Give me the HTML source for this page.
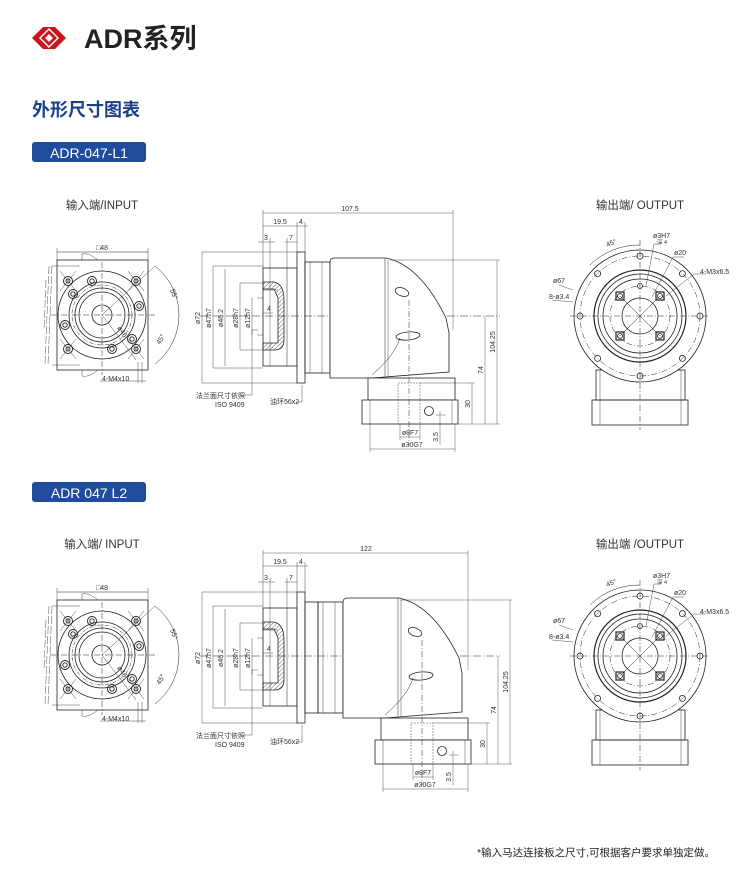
<!DOCTYPE html>
<html><head><meta charset="utf-8"><style>
body{margin:0;background:#fff;width:750px;height:886px;overflow:hidden;font-family:"Liberation Sans","Noto Sans CJK SC",sans-serif}
svg{position:absolute;left:0;top:0}
</style></head><body>
<svg width="750" height="886" viewBox="0 0 750 886" xmlns="http://www.w3.org/2000/svg" font-family="Liberation Sans, Noto Sans CJK SC, sans-serif">
<defs>
<pattern id="h" width="3" height="3" patternUnits="userSpaceOnUse" patternTransform="rotate(45)"><line x1="0" y1="0" x2="0" y2="3" stroke="#444" stroke-width="0.8"/></pattern>
<g id="IN" fill="none" stroke="#222" stroke-width="0.8">
 <rect x="57" y="260" width="91" height="110"/>
 <circle cx="102" cy="315" r="44"/>
 <circle cx="102" cy="315" r="33"/>
 <circle cx="102" cy="315" r="27"/>
 <circle cx="102" cy="315" r="23"/>
 <circle cx="102" cy="315" r="10"/>
 <circle cx="102" cy="315" r="30" stroke-dasharray="4 1.5 1 1.5" stroke-width="0.5"/>
 <g stroke-width="0.9">
  <circle cx="68" cy="281" r="4.5"/><circle cx="68" cy="281" r="2"/>
  <circle cx="136" cy="281" r="4.5"/><circle cx="136" cy="281" r="2"/>
  <circle cx="68" cy="349" r="4.5"/><circle cx="68" cy="349" r="2"/>
  <circle cx="136" cy="349" r="4.5"/><circle cx="136" cy="349" r="2"/>
  <circle cx="92" cy="281" r="4.5"/><circle cx="92" cy="281" r="2.2"/>
  <circle cx="73" cy="294" r="4.5"/><circle cx="73" cy="294" r="2.2"/>
  <circle cx="139" cy="306" r="4.5"/><circle cx="139" cy="306" r="2.2"/>
  <circle cx="65" cy="325" r="4.5"/><circle cx="65" cy="325" r="2.2"/>
  <circle cx="132" cy="339" r="4.5"/><circle cx="132" cy="339" r="2.2"/>
  <circle cx="112" cy="349" r="4.5"/><circle cx="112" cy="349" r="2.2"/>
 </g>
 <path d="M60 271 L76 291 M60 291 L76 271 M128 271 L144 291 M128 291 L144 271 M60 339 L76 359 M60 359 L76 339 M128 339 L144 359 M128 359 L144 339" stroke-width="0.4"/>
 <line x1="50" y1="315" x2="155" y2="315" stroke-dasharray="6 2 1 2" stroke-width="0.5"/>
 <line x1="102" y1="262" x2="102" y2="375" stroke-dasharray="6 2 1 2" stroke-width="0.5"/>
 <line x1="57" y1="252" x2="148" y2="252" stroke-width="0.5"/>
 <line x1="57" y1="248" x2="57" y2="260" stroke-width="0.4"/><line x1="148" y1="248" x2="148" y2="260" stroke-width="0.4"/>
 <path d="M155 266 A 62 62 0 0 1 155 364" stroke-width="0.5"/>
 <line x1="102" y1="315" x2="155" y2="266" stroke-width="0.4"/>
 <line x1="102" y1="315" x2="136" y2="360" stroke-width="0.4"/>
 <line x1="138" y1="362" x2="138" y2="383" stroke-width="0.4"/><line x1="142" y1="362" x2="142" y2="383" stroke-width="0.4"/>
 <line x1="100" y1="381" x2="146" y2="381" stroke-width="0.4"/>
 <path d="M49 266 L45 365 M52 266 L48 365 M46 280 L44 330" stroke-width="0.4" stroke-dasharray="8 2"/>
 <path d="M52 266 L80 266 M52 365 L80 365" stroke-width="0.4"/>
 <path d="M82 260 L82 254 Q88 252 98 260 M82 370 L82 376 Q88 378 98 370" stroke-width="0.4"/>
</g>
<g id="OUT" fill="none" stroke="#222" stroke-width="0.8">
 <rect x="596" y="370" width="89" height="30"/>
 <rect x="592" y="400" width="96" height="25"/>
 <line x1="600" y1="370" x2="600" y2="425" stroke-width="0.4"/><line x1="681" y1="370" x2="681" y2="425" stroke-width="0.4"/>
 <circle cx="640" cy="316" r="66" fill="#fff"/>
 <circle cx="640" cy="316" r="60" stroke-dasharray="6 2 1 2" stroke-width="0.5"/>
 <circle cx="640" cy="316" r="46" stroke-width="1.2"/>
 <circle cx="640" cy="316" r="42"/>
 <circle cx="640" cy="316" r="37"/>
 <circle cx="640" cy="316" r="30" stroke-dasharray="6 2 1 2" stroke-width="0.5"/>
 <circle cx="640" cy="316" r="18"/>
 <g stroke-width="0.8">
  <circle cx="640" cy="256" r="3"/><circle cx="640" cy="376" r="3"/><circle cx="580" cy="316" r="3"/><circle cx="700" cy="316" r="3"/>
  <circle cx="597.6" cy="273.6" r="3"/><circle cx="682.4" cy="273.6" r="3"/><circle cx="597.6" cy="358.4" r="3"/><circle cx="682.4" cy="358.4" r="3"/>
  <circle cx="640" cy="286" r="2.5"/>
  <rect x="616" y="292" width="8" height="8" stroke-width="1.2"/><circle cx="620" cy="296" r="2.5"/>
  <rect x="656" y="292" width="8" height="8" stroke-width="1.2"/><circle cx="660" cy="296" r="2.5"/>
  <rect x="616" y="332" width="8" height="8" stroke-width="1.2"/><circle cx="620" cy="336" r="2.5"/>
  <rect x="656" y="332" width="8" height="8" stroke-width="1.2"/><circle cx="660" cy="336" r="2.5"/>
 </g>
 <line x1="620" y1="296" x2="660" y2="336" stroke-width="0.5"/><line x1="660" y1="296" x2="620" y2="336" stroke-width="0.5"/>
 <line x1="570" y1="316" x2="710" y2="316" stroke-dasharray="6 2 1 2" stroke-width="0.5"/>
 <line x1="640" y1="240" x2="640" y2="430" stroke-dasharray="6 2 1 2" stroke-width="0.5"/>
 <path d="M590 265 A 70 70 0 0 1 640 245" stroke-width="0.5"/>
 <path d="M573 290 L559 285 M573 302 L552 300" stroke-width="0.4"/>
 <path d="M646 286 L654 244 L660 244 M652 297 L673 257 L684 257 M666 296 L694 274 L706 274" stroke-width="0.4"/>
</g>
<g id="SL" fill="none" stroke="#222" stroke-width="0.8">
 <rect x="263" y="268" width="34" height="98"/>
 <line x1="270" y1="268" x2="270" y2="366" stroke-width="0.4"/>
 <line x1="287" y1="268" x2="287" y2="366" stroke-width="0.5"/>
 <path d="M263 282 L274 282 Q284 284 284 300 L284 340 Q284 350 274 350 L263 350 L263 343 L278 343 L278 298 L274 289 L263 289 Z" fill="url(#h)"/>
 <rect x="297" y="252" width="8" height="131" fill="#fff"/>
 <line x1="263" y1="290" x2="278" y2="290" stroke-width="0.4"/>
 <line x1="257" y1="298" x2="263" y2="298" stroke-width="0.4"/><line x1="257" y1="335" x2="263" y2="335" stroke-width="0.4"/>
 <g stroke-width="0.4">
  <line x1="202" y1="252" x2="297" y2="252"/><line x1="202" y1="383" x2="297" y2="383"/><line x1="202" y1="252" x2="202" y2="383"/>
  <line x1="213" y1="266" x2="263" y2="266"/><line x1="213" y1="368" x2="263" y2="368"/><line x1="213" y1="266" x2="213" y2="368"/>
  <line x1="225" y1="269" x2="225" y2="366"/>
  <line x1="240" y1="283" x2="263" y2="283"/><line x1="240" y1="350" x2="263" y2="350"/><line x1="240" y1="283" x2="240" y2="350"/>
  <line x1="252" y1="298" x2="252" y2="335"/>
  <line x1="263" y1="210" x2="263" y2="268"/>
  <line x1="297" y1="222" x2="297" y2="252"/><line x1="305" y1="222" x2="305" y2="252"/>
  <line x1="263" y1="226" x2="308" y2="226"/>
  <line x1="258" y1="242" x2="275" y2="242"/><line x1="270" y1="238" x2="270" y2="268"/>
  <line x1="285" y1="242" x2="297" y2="242"/><line x1="287" y1="238" x2="287" y2="268"/>
  <line x1="263" y1="313" x2="273" y2="313"/>
  <path d="M258 330 L252 330 L252 395 L244 395 M302 385 L302 402 L296 402"/>
 </g>
 <line x1="200" y1="316" x2="500" y2="316" stroke-dasharray="8 2 1 2" stroke-width="0.5"/>
</g>
<g id="SR" fill="none" stroke="#222" stroke-width="0.8">
 <rect x="305" y="262" width="25" height="111"/>
 <line x1="310" y1="262" x2="310" y2="373" stroke-width="0.4"/><line x1="322" y1="262" x2="322" y2="373" stroke-width="0.4"/>
 <path d="M330 262 Q330 258 335 258 L386 258 Q420 265 446 318 L449 333 L449 372 L372 378 L330 378 Z" fill="#fff"/>
 <line x1="385" y1="258" x2="385" y2="376" stroke-width="0.5"/><line x1="388" y1="260" x2="388" y2="376" stroke-width="0.4"/>
 <ellipse cx="402" cy="292" rx="7" ry="4" transform="rotate(20 402 292)"/>
 <ellipse cx="408" cy="336" rx="12" ry="4" transform="rotate(-5 408 336)"/>
 <path d="M400 338 Q395 355 372 375" stroke-width="0.5"/>
 <rect x="368" y="378" width="87" height="22" fill="#fff"/>
 <rect x="362" y="400" width="96" height="24" fill="#fff"/>
 <line x1="370" y1="400" x2="370" y2="424" stroke-width="0.4"/><line x1="452" y1="400" x2="452" y2="424" stroke-width="0.4"/>
 <rect x="398" y="383" width="22" height="41" stroke-dasharray="2 1" stroke-width="0.4"/>
 <circle cx="429" cy="411" r="4.5"/>
 <line x1="409" y1="300" x2="409" y2="445" stroke-dasharray="6 2 1 2" stroke-width="0.5"/>
</g>
</defs>

<g fill="#c8161d">
 <path d="M32 38 L43 27 L50 27 L39 38 L50 49 L43 49 Z"/>
 <path d="M48 27 L55 27 L66 38 L55 49 L48 49 L59 38 Z"/>
 <path d="M41 38 L49 30 L57 38 L49 46 Z" fill="#c8161d"/>
 <path d="M45 38 L49 34 L53 38 L49 42 Z" fill="#fff"/>
</g>
<text x="84" y="48" font-size="27" font-weight="bold" fill="#222">ADR系列</text>
<text x="32" y="116" font-size="18" font-weight="bold" fill="#1b3f8c">外形尺寸图表</text>

<rect x="32" y="142" width="114" height="20" rx="3" fill="#1f4c9d"/>
<text x="89" y="158" font-size="14" fill="#fff" text-anchor="middle">ADR-047-L1</text>
<text x="102" y="209" font-size="11.5" fill="#333" text-anchor="middle">输入端/INPUT</text>
<text x="640" y="209" font-size="11.5" fill="#333" text-anchor="middle">输出端/ OUTPUT</text>
<use href="#IN"/><use href="#OUT"/><use href="#SL"/><use href="#SR"/>
<g fill="none" stroke="#333" stroke-width="0.4">
 <line x1="263" y1="213" x2="453" y2="213"/><line x1="453" y1="210" x2="453" y2="330"/>
 <line x1="390" y1="260" x2="500" y2="260"/><line x1="497" y1="260" x2="497" y2="424"/>
 <line x1="485" y1="316" x2="485" y2="424"/><line x1="458" y1="424" x2="500" y2="424"/>
 <line x1="420" y1="383" x2="475" y2="383"/><line x1="472" y1="383" x2="472" y2="424"/>
 <line x1="400" y1="424" x2="400" y2="440"/><line x1="420" y1="424" x2="420" y2="440"/><line x1="400" y1="437" x2="420" y2="437"/>
 <line x1="370" y1="424" x2="370" y2="452"/><line x1="455" y1="424" x2="455" y2="452"/><line x1="370" y1="449" x2="455" y2="449"/>
 <line x1="440" y1="411" x2="440" y2="445"/><line x1="436" y1="415" x2="446" y2="415"/>
</g>
<g font-size="7" fill="#333">
 <text x="350" y="211" text-anchor="middle">107.5</text>
 <text x="280" y="224" text-anchor="middle">19.5</text><text x="301" y="224" text-anchor="middle">4</text>
 <text x="266" y="240" text-anchor="middle">3</text><text x="291" y="240" text-anchor="middle">7</text>
 <text x="269" y="311" text-anchor="middle">4</text>
 <text x="410" y="435" text-anchor="middle">ø8F7</text><text x="412" y="447" text-anchor="middle">ø30G7</text>
 <text transform="translate(200 318) rotate(-90)" text-anchor="middle">ø72</text>
 <text transform="translate(211 318) rotate(-90)" text-anchor="middle">ø47h7</text>
 <text transform="translate(223 318) rotate(-90)" text-anchor="middle">ø46.2</text>
 <text transform="translate(238 318) rotate(-90)" text-anchor="middle">ø28h7</text>
 <text transform="translate(250 318) rotate(-90)" text-anchor="middle">ø12h7</text>
 <text transform="translate(495 342) rotate(-90)" text-anchor="middle">104.25</text>
 <text transform="translate(483 370) rotate(-90)" text-anchor="middle">74</text>
 <text transform="translate(470 404) rotate(-90)" text-anchor="middle">30</text>
 <text transform="translate(438 437) rotate(-90)" text-anchor="middle">3.5</text>
 <text x="196" y="398">法兰面尺寸依照</text><text x="215" y="407">ISO 9409</text>
 <text x="270" y="404">油环56x2</text>
 <text x="102" y="250" text-anchor="middle">□48</text>
 <text x="102" y="381">4-M4x10</text>
 <text transform="translate(170 290) rotate(70)">55°</text>
 <text transform="translate(160 345) rotate(-60)">45°</text>
 <text transform="translate(117 328) rotate(55)">ø46</text>
 <text x="607" y="247" transform="rotate(-20 607 247)">45°</text>
 <text x="653" y="238">ø3H7</text><text x="657" y="244" font-size="5.5">深 4</text>
 <text x="674" y="255">ø20</text><text x="700" y="274">4-M3x6.5</text>
 <text x="553" y="283">ø67</text><text x="549" y="299">8-ø3.4</text>
</g>

<g transform="translate(0 340)">
<rect x="32" y="142" width="114" height="20" rx="3" fill="#1f4c9d"/>
<text x="89" y="158" font-size="14" fill="#fff" text-anchor="middle">ADR 047 L2</text>
<text x="102" y="208" font-size="11.5" fill="#333" text-anchor="middle">输入端/ INPUT</text>
<text x="640" y="208" font-size="11.5" fill="#333" text-anchor="middle">输出端 /OUTPUT</text>
<use href="#IN"/><use href="#OUT"/><use href="#SL"/>
<rect x="305" y="262" width="13" height="111" fill="none" stroke="#222" stroke-width="0.8"/>
<use href="#SR" transform="translate(13 0)"/>
<g fill="none" stroke="#333" stroke-width="0.4">
 <line x1="263" y1="213" x2="468" y2="213"/><line x1="468" y1="210" x2="468" y2="330"/>
 <line x1="400" y1="260" x2="512" y2="260"/><line x1="510" y1="260" x2="510" y2="424"/>
 <line x1="498" y1="316" x2="498" y2="424"/><line x1="471" y1="424" x2="512" y2="424"/>
 <line x1="433" y1="383" x2="490" y2="383"/><line x1="487" y1="383" x2="487" y2="424"/>
 <line x1="413" y1="424" x2="413" y2="440"/><line x1="433" y1="424" x2="433" y2="440"/><line x1="413" y1="437" x2="433" y2="437"/>
 <line x1="383" y1="424" x2="383" y2="452"/><line x1="468" y1="424" x2="468" y2="452"/><line x1="383" y1="449" x2="468" y2="449"/>
 <line x1="453" y1="411" x2="453" y2="445"/><line x1="449" y1="415" x2="459" y2="415"/>
</g>
<g font-size="7" fill="#333">
 <text x="366" y="211" text-anchor="middle">122</text>
 <text x="280" y="224" text-anchor="middle">19.5</text><text x="301" y="224" text-anchor="middle">4</text>
 <text x="266" y="240" text-anchor="middle">3</text><text x="291" y="240" text-anchor="middle">7</text>
 <text x="269" y="311" text-anchor="middle">4</text>
 <text x="423" y="435" text-anchor="middle">ø8F7</text><text x="425" y="447" text-anchor="middle">ø30G7</text>
 <text transform="translate(200 318) rotate(-90)" text-anchor="middle">ø72</text>
 <text transform="translate(211 318) rotate(-90)" text-anchor="middle">ø47h7</text>
 <text transform="translate(223 318) rotate(-90)" text-anchor="middle">ø46.2</text>
 <text transform="translate(238 318) rotate(-90)" text-anchor="middle">ø28h7</text>
 <text transform="translate(250 318) rotate(-90)" text-anchor="middle">ø12h7</text>
 <text transform="translate(508 342) rotate(-90)" text-anchor="middle">104.25</text>
 <text transform="translate(496 370) rotate(-90)" text-anchor="middle">74</text>
 <text transform="translate(485 404) rotate(-90)" text-anchor="middle">30</text>
 <text transform="translate(451 437) rotate(-90)" text-anchor="middle">3.5</text>
 <text x="196" y="398">法兰面尺寸依照</text><text x="215" y="407">ISO 9409</text>
 <text x="270" y="404">油环56x2</text>
 <text x="102" y="250" text-anchor="middle">□48</text>
 <text x="102" y="381">4-M4x10</text>
 <text transform="translate(170 290) rotate(70)">55°</text>
 <text transform="translate(160 345) rotate(-60)">45°</text>
 <text transform="translate(117 328) rotate(55)">ø46</text>
 <text x="607" y="247" transform="rotate(-20 607 247)">45°</text>
 <text x="653" y="238">ø3H7</text><text x="657" y="244" font-size="5.5">深 4</text>
 <text x="674" y="255">ø20</text><text x="700" y="274">4-M3x6.5</text>
 <text x="553" y="283">ø67</text><text x="549" y="299">8-ø3.4</text>
</g>
</g>

<text x="715" y="856" font-size="10.5" fill="#222" text-anchor="end">*输入马达连接板之尺寸,可根据客户要求单独定做。</text>
</svg>
</body></html>
